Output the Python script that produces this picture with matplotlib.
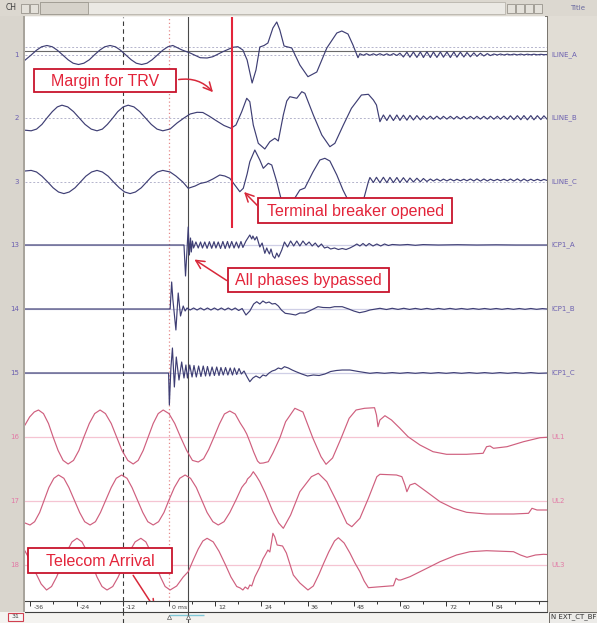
import matplotlib
matplotlib.use("Agg")
import matplotlib.pyplot as plt
from matplotlib.patches import Rectangle
from matplotlib.transforms import blended_transform_factory

# ---------------- data (time in ms, amplitude in screen units, up = +) ----------------
CH_NUM = ["1", "2", "3", "13", "14", "15", "16", "17", "18"]
CH_NAME = ["ILINE_A", "ILINE_B", "ILINE_C", "ICP1_A", "ICP1_B", "ICP1_C", "UL1", "UL2", "UL3"]

MAJOR = [-36, -24, -12, 0, 12, 24, 36, 48, 60, 72, 84]
MAJOR_LABELS = ["-36", "-24", "-12", "0 ms", "12", "24", "36", "48", "60", "72", "84"]
MINOR = [-30, -18, -6, 6, 18, 30, 42, 54, 66, 78, 90, 96]

CURSOR_DASH = -12.0
CURSOR_ZERO = 0.0
CURSOR_SOLID = 4.9
TRV_LINE = 16.4

# common sample instants of the post-event ripple
T_RIP = [49.6, 50.5, 51.3, 52.2, 53.1, 53.9, 54.8, 55.7, 56.6, 57.4, 58.3, 59.2, 60.0,
         60.9, 61.8, 62.6, 63.5, 64.4, 65.3, 66.1, 67.0, 67.9, 68.7, 69.6, 70.5, 71.3,
         72.2, 73.1, 74.0, 74.8, 75.7, 76.6, 77.4, 78.3, 79.2, 80.0, 80.9, 81.8, 82.7,
         83.5, 84.4, 85.3, 86.1, 87.0, 87.9, 88.7, 89.6, 90.5, 91.4, 92.2, 93.1, 94.0,
         94.8, 95.7, 96.6, 97.4, 98.3]

ILINE_A = [(-37.5, -5.5), (-35.8, 0), (-34.4, 4.8), (-33.1, 8.2), (-31.7, 9.5), (-30.3, 8.2),
           (-29.0, 4.8), (-27.6, 0), (-26.2, -4.8), (-24.9, -8.2), (-23.5, -9.5), (-22.1, -8.2),
           (-20.7, -4.8), (-19.4, 0), (-18.0, 4.8), (-16.7, 8.2), (-15.3, 9.5), (-13.9, 8.2),
           (-12.6, 4.8), (-11.2, 0), (-9.8, -4.8), (-8.5, -8.2), (-7.1, -9.5), (-5.7, -8.2),
           (-4.4, -4.8), (-3.0, 0), (-1.6, 4.8), (-0.3, 8.2), (1.0, 9.5), (3.4, 5), (5.5, 2),
           (8.1, -2.7), (9.9, -3), (11.4, -1.7), (14.0, 3.3), (16.6, 7.7), (17.9, 8.3),
           (19.2, 5), (20.3, -5), (21.6, -28), (22.6, -15), (23.6, 8), (24.7, 9.5), (25.7, 12),
           (27.0, 27), (28.0, 33), (28.8, 25), (29.9, 9), (30.9, 8), (31.9, 7), (34.0, -10),
           (36.1, -21.7), (38.4, -17), (41.0, 7), (43.6, 22), (44.9, 24), (46.5, 21),
           (47.8, 10), (49.1, -2.7)]
ILINE_A_TAIL = [1.3, -0.3, 1.3, -0.3, 1.2, -0.2, 1.3, -0.3, 1.2, -0.4, 1.4, -0.5, 1.8,
                -2.0, 2.8, -2.2, 3.0, -2.4, 3.0, -2.5, 3.2, -2.5, 3.0, -2.4, 3.0, -2.2, 3.0,
                -2.5, 3.0, -2.2, 2.8, -2.0, 2.5, -1.8, 2.2, -1.4, 1.8, -1.0, 1.4, -0.6,
                1.0, 0.0, 1.0, 0.0, 0.9, 0.1, 0.9, 0.1, 0.9, 0.1, 0.8, 0.2, 0.8, 0.2, 0.7, 0.3, 0.5]

ILINE_B = [(-37.4, -12.2), (-35.8, -12.8), (-34.4, -11.1), (-33.0, -6.4), (-31.7, 0),
           (-30.3, 6.4), (-29.0, 11.1), (-27.8, 12.8), (-26.3, 11.1), (-24.8, 6.4), (-23.3, 0),
           (-21.8, -6.4), (-20.2, -11.1), (-18.7, -12.8), (-17.3, -11.1), (-16.0, -6.4),
           (-14.6, 0), (-13.3, 6.4), (-11.9, 11.1), (-10.6, 12.8), (-9.1, 11.1), (-7.6, 6.4),
           (-6.1, 0), (-4.6, -6.4), (-3.1, -11.1), (-1.6, -12.8), (0.3, -11), (2.1, -5),
           (3.9, 0), (5.5, 4), (7.3, 5.7), (8.8, 5.5), (10.4, 2), (12.2, -2.5), (14.3, -7.5),
           (16.1, -10.3), (17.4, -7), (18.9, 6.3), (20.2, 19.7), (21.0, 16.3), (21.9, -7),
           (23.2, -25.3), (24.9, -31), (26.2, -23.7), (27.5, -20.3), (28.4, -23), (29.7, 3),
           (30.6, 17), (31.4, 21.3), (33.2, 19.7), (34.5, 26.3), (35.3, 24.7), (37.5, 3),
           (39.7, -17), (41.8, -28.7), (43.1, -25.3), (45.3, -7), (47.4, 9.7), (50.0, 23),
           (51.8, 23.7), (53.1, 18), (53.9, 13)]
ILINE_B_TAIL = [-3.7, 3.0, -2.5, 3.0, -2.5, 3.0, -2.4, 2.8, -2.2, 2.6, -2.0, 2.4, -1.8,
                2.0, -1.3, 1.8, -1.2, 1.8, -1.2, 1.7, -1.1, 1.7, -1.1, 1.6, -1.0, 1.6, -1.0,
                1.6, -1.0, 1.7, -1.1, 1.7, -1.1, 1.8, -1.2, 1.8, -1.2, 1.9, -1.3,
                2.2, -1.6, 2.3, -1.7, 2.4, -1.8, 2.4, -1.8, 2.3, -1.6, 2.2, -1.5]

ILINE_C = [(-37.4, 11.0), (-35.8, 11.6), (-34.4, 10.0), (-33.0, 5.8), (-31.5, 0), (-30.1, -5.8),
           (-28.7, -10.0), (-27.3, -11.6), (-25.9, -10.0), (-24.4, -5.8), (-23.0, 0),
           (-21.6, 5.8), (-20.1, 10.0), (-18.7, 11.6), (-17.3, 10.0), (-15.8, 5.8), (-14.4, 0),
           (-12.9, -5.8), (-11.5, -10.0), (-10.1, -11.6), (-8.7, -10.0), (-7.2, -5.8),
           (-5.8, 0), (-4.4, 5.8), (-3.0, 10.0), (-1.6, 11.6), (0.3, 10), (1.8, 6), (3.6, 0),
           (5.0, -6.3), (6.8, -4), (8.1, -1.5), (9.8, 0), (11.4, 3), (13.2, 7), (14.5, 6),
           (15.8, 3.7), (17.1, -3), (18.4, -9.7), (19.3, -6.3), (20.3, 8), (21.0, 20.3),
           (22.3, 32), (23.6, 22), (24.5, 13.7), (25.8, 18.7), (26.7, 17), (28.0, 0.3),
           (29.3, -19.7), (30.6, -33), (31.7, -35), (32.7, -16), (34.0, -8), (35.3, -6),
           (37.4, 10), (39.2, 22), (40.5, 23.7), (41.8, 21), (43.6, 7), (45.2, -8), (46.5, -18),
           (48.3, -21), (50.4, -19.7), (51.8, 0.3)]
ILINE_C_TAIL = [4.5, -0.5, 4.7, -0.7, 4.7, -0.7, 4.6, -0.6, 4.5, -0.5, 4.3, -0.3, 4.0, 0.0,
                3.8, 0.2, 3.5, 0.5,
                3.0, 1.0, 3.0, 1.0, 2.9, 1.1, 2.9, 1.1, 2.8, 1.2, 2.8, 1.2, 3.0, 1.0, 3.1, 0.9,
                3.0, 1.0, 2.8, 1.2, 2.7, 1.3, 2.8, 1.2, 3.0, 1.0, 3.1, 0.9, 3.0, 1.0, 2.8, 1.2,
                2.7, 1.3, 2.6, 1.4]

ICP1_A = [(-37.4, 0), (3.9, 0), (4.3, -31), (4.7, -4), (5.0, 18), (5.3, -10), (5.6, 7),
          (5.8, -7), (6.1, 4), (6.4, -3), (7.0, 3), (7.6, -3), (8.2, 3), (8.7, -3), (9.3, 3),
          (9.9, -3.3), (10.5, 3.3), (11.1, -3.3), (11.7, 3.3), (12.2, -3), (12.8, 3),
          (13.4, -3.5), (14.0, 3.5), (14.6, -3.5), (15.2, 3.5), (15.7, -3), (16.3, 3.5),
          (16.9, -3), (17.5, 3), (18.1, -3), (18.7, 3.5), (19.2, -2.5), (20.0, 4), (21.0, 10),
          (21.5, 6), (21.8, 9), (22.3, 5), (22.8, 8.3), (23.6, -2), (24.2, 2), (24.9, -8.3),
          (25.4, -3), (25.7, -6), (26.1, -9), (26.5, -4), (27.0, -11), (27.5, -13.3),
          (28.0, -8), (28.5, -12), (29.3, -5), (30.0, 3), (30.8, -2), (31.6, 4), (32.4, -1),
          (33.2, 4), (34.0, -1), (34.8, 4), (35.6, 0), (36.4, 3), (37.2, -1), (38.0, 2),
          (38.8, -2), (39.6, 1), (40.4, -3), (41.2, -2), (42.0, -4), (43.0, -3), (44.0, -4.5),
          (45.0, -3.5), (46.0, -4.5), (47.0, -3), (48.0, -1), (48.8, 1), (49.6, -1),
          (50.4, 1.5), (51.2, -1), (52.0, 1.5), (53.0, -1), (54.0, 1), (55.0, -1), (56.0, 1),
          (57.0, -0.5), (58.0, 0.5), (60.0, 0), (62.0, 0.5), (64.0, -0.3), (66.0, 0.4),
          (70.0, 0), (75.0, 0.3), (80.0, 0), (85.0, 0.2), (90.0, 0), (98.2, 0)]

ICP1_B = [(-37.4, 0), (0.3, 0), (0.7, 27), (1.0, 10), (1.8, -21), (2.4, 16), (3.0, -7),
          (3.7, 3), (4.2, -2), (4.7, 1), (5.5, -1), (6.4, 1), (7.3, -1), (8.2, 1), (9.1, -1),
          (10.0, 1), (10.9, -1), (11.8, 1), (12.7, -1), (13.6, 1), (14.5, -1), (15.4, 1),
          (16.3, -1), (17.2, 1), (18.1, -1.5), (19.0, 0.5), (20.0, -6), (21.0, -2), (22.0, 5),
          (22.8, 7.3), (23.6, 5), (24.4, 8), (25.2, 6), (26.0, 7), (26.8, 5), (27.6, 5.5),
          (28.4, 3), (29.2, -1), (30.2, -4.3), (31.5, -5), (32.9, -6), (34.0, -4), (35.3, -4),
          (36.1, -2.7), (38.7, 2.3), (40.0, 1.5), (41.8, 1.3), (43.0, 2.3), (45.0, 2.3),
          (46.7, 0), (48.0, -2), (49.5, -3.7), (51.0, -2.5), (52.2, -1), (54.8, 0.7),
          (56.5, -0.5), (58.0, 0.7), (59.5, -0.4), (61.0, 0.7), (62.5, -0.4), (64.0, 0.6),
          (65.5, -0.4), (67.0, 0.6), (68.5, -0.4), (70.0, 0.6), (71.5, -0.3), (73.0, 0.6),
          (74.5, -0.3), (76.0, 0.5), (77.5, -0.3), (79.0, 0.5), (80.5, -0.3), (82.0, 0.5),
          (83.5, -0.3), (85.0, 0.5), (86.5, -0.3), (88.0, 0.5), (89.5, -0.3), (91.0, 0.5),
          (92.5, -0.3), (94.0, 0.5), (95.5, -0.3), (97.0, 0.4), (98.2, 0)]

ICP1_C = [(-37.4, 0), (-0.1, 0), (0.1, -32), (0.5, 5), (0.9, 25), (1.4, -14), (1.9, 16),
          (2.6, -7), (3.3, 11), (3.9, -5), (4.4, 8), (4.8, -5), (5.4, 8), (6.0, -4), (6.5, 7.5),
          (7.1, -4), (7.7, 7), (8.3, -3.5), (8.9, 7), (9.5, -3), (10.0, 6.5), (10.6, -3),
          (11.2, 6), (11.8, -2.5), (12.4, 6), (13.0, -2.5), (13.5, 5.5), (14.1, -2), (14.7, 5.5),
          (15.3, -2), (15.9, 5), (16.5, -2), (17.0, 5), (17.6, -1.5), (18.2, 4.5), (18.8, -1),
          (19.5, 2), (20.3, -4), (21.0, -8.7), (21.8, -5), (22.6, -3), (23.6, -5), (24.4, -2),
          (25.2, -3), (26.0, 0), (26.8, 2), (27.6, 3), (28.4, 5), (29.2, 4), (30.0, 6.3),
          (31.0, 5), (32.0, 3), (33.0, 1.3), (34.5, -1), (36.0, -3), (37.5, -2), (39.0, -2.5),
          (40.5, -1), (42.0, 1.5), (43.5, 2.5), (45.0, 3), (47.0, 3), (49.5, 1.3), (52.2, -0.3),
          (54.0, 0.4), (56.0, -0.3), (58.0, 0.4), (60.0, -0.3), (62.0, 0.4), (64.0, -0.3),
          (66.0, 0.4), (68.0, -0.3), (70.0, 0.4), (72.0, -0.3), (74.0, 0.4), (76.0, -0.3),
          (78.0, 0.4), (80.0, -0.3), (82.0, 0.4), (84.0, -0.3), (86.0, 0.4), (88.0, -0.3),
          (90.0, 0.4), (92.0, -0.3), (94.0, 0.4), (96.0, -0.3), (98.2, 0)]

UL1 = [(-37.4, 12), (-36.2, 20), (-35.0, 25), (-33.9, 27), (-32.6, 23.4), (-31.3, 13.5),
       (-30.1, 0), (-28.8, -13.5), (-27.5, -23.4), (-26.2, -27), (-24.8, -23.4), (-23.4, -13.5),
       (-22.1, 0), (-20.7, 13.5), (-19.3, 23.4), (-17.9, 27), (-16.5, 23.4), (-15.0, 13.5),
       (-13.6, 0), (-12.2, -13.5), (-10.7, -23.4), (-9.3, -27), (-8.0, -23.4), (-6.7, -13.5),
       (-5.4, 0), (-4.1, 13.5), (-2.8, 23.4), (-1.5, 27), (0.0, 23.4), (1.5, 13.5), (3.0, 0),
       (4.6, -13.5), (6.1, -23.4), (7.6, -25), (9.0, -21.7), (10.3, -12.5), (11.7, 0),
       (13.1, 13), (14.4, 23), (15.8, 26), (17.2, 23), (18.5, 14), (19.5, 8), (20.2, 3),
       (21.0, -4.7), (22.0, -15), (23.0, -24), (23.6, -26.3), (24.5, -26), (25.8, -24.7),
       (27.0, -16), (28.8, -1), (30.3, 15.3), (31.2, 20.3), (32.7, 28.7), (34.8, 25),
       (37.4, -1.3), (39.5, -19.7), (40.8, -27.3), (42.5, -21), (44.7, -1.3), (46.8, 18.7),
       (48.6, 27), (50.8, 28.7), (53.4, 29.3), (53.9, 22), (54.3, 10.3), (54.8, 17),
       (56.1, 21.3), (57.8, 17), (60.0, 8.7), (62.1, 0.3), (65.2, -8), (68.6, -14.7),
       (72.1, -17.3), (77.3, -17.3), (81.6, -16.3), (82.5, -9.7), (83.4, -9), (84.3, -11.3),
       (87.8, -9.7), (92.1, -4.7), (96.4, -0.7), (98.2, -0.3)]

UL2 = [(-37.4, -22), (-36.1, -24), (-34.9, -20.7), (-33.6, -11.5), (-32.4, 1), (-31.2, 13.5),
       (-29.9, 22.7), (-28.7, 26), (-27.3, 22.7), (-26.0, 13.5), (-24.6, 1), (-23.2, -11.5),
       (-21.9, -20.7), (-20.5, -24), (-19.1, -20.7), (-17.8, -11.5), (-16.4, 1), (-15.0, 13.5),
       (-13.7, 22.7), (-12.3, 26), (-10.9, 22.7), (-9.6, 13.5), (-8.2, 1), (-6.8, -11.5),
       (-5.5, -20.7), (-4.1, -24), (-2.7, -20.7), (-1.3, -11.5), (0.0, 1), (1.4, 13.5),
       (2.8, 22.7), (4.2, 26), (5.6, 22.7), (7.1, 13.5), (8.5, 1), (9.9, -11.5), (11.4, -20.7),
       (12.8, -24), (14.3, -20.7), (15.8, -11.5), (17.4, 1), (18.9, 13.5), (19.6, 17),
       (20.0, 18.5), (20.4, 22), (21.2, 25), (21.9, 29.3), (22.7, 25), (23.6, 19.3), (25.0, 8),
       (27.0, -10.7), (28.5, -22), (29.7, -27.3), (31.6, -14), (34.0, 9.3), (37.0, 24.3),
       (38.8, 27.7), (41.0, 19.3), (43.6, -0.7), (46.2, -22.3), (47.5, -25.7), (49.6, -17.3),
       (51.8, 2.7), (54.0, 24.3), (54.8, 26.7), (59.1, 26), (60.5, 24.3), (61.3, 16),
       (61.8, 9.3), (62.6, 16), (63.9, 17.7), (66.9, 9.3), (70.4, -0.7), (73.9, -7.3),
       (77.3, -11.3), (82.5, -13), (89.5, -13), (93.4, -12.3), (94.3, -7.3), (95.6, -9),
       (98.2, -9)]

UL3 = [(-37.4, 14), (-36.0, 4), (-34.6, -8), (-33.2, -19), (-31.8, -25), (-30.5, -21.5),
       (-29.2, -12), (-27.8, 0.8), (-26.5, 13.7), (-25.2, 23.1), (-23.9, 26.7), (-22.6, 23.1),
       (-21.3, 13.7), (-20.0, 0.8), (-18.7, -12), (-17.4, -21.5), (-16.1, -25), (-14.6, -21.5),
       (-13.2, -12), (-11.7, 0.8), (-10.2, 13.7), (-8.8, 23.1), (-7.3, 26.7), (-6.0, 23.1),
       (-4.8, 13.7), (-3.5, 0.8), (-2.2, -12), (-1.0, -21.5), (0.3, -25), (2.0, -21),
       (3.7, -12), (5.0, -6.7), (6.3, 5), (7.6, 16), (8.8, 24), (9.9, 26.7), (11.5, 23.1),
       (13.0, 13.7), (14.6, 0.8), (16.1, -12), (17.6, -21.5), (18.5, -23), (19.2, -25),
       (19.8, -22), (20.5, -24), (21.0, -20), (21.5, -21), (22.3, -12), (23.6, -2), (24.4, 6),
       (25.0, 10), (25.7, 15), (26.2, 13), (26.6, 22), (27.0, 31.7), (27.5, 28), (28.1, 20),
       (29.5, 19), (30.5, 12), (32.3, -10), (34.0, -18), (36.1, -25), (37.5, -21),
       (39.0, -9), (40.1, 1), (41.5, 13), (43.0, 24), (44.0, 27.3), (45.5, 22), (47.0, 12),
       (48.3, 2), (49.6, -6.7), (50.7, -16), (51.8, -22.7), (54.0, -22), (58.3, -20.7),
       (59.0, -13.3), (59.6, -15), (60.2, -15), (62.6, -11.7), (66.1, -5), (70.4, 3.3),
       (74.7, 10), (78.2, 13.3), (82.5, 14.3), (89.5, 13.3), (91.3, 10), (93.0, 7.7),
       (95.2, 10), (97.3, 10.7), (98.2, 10.5)]

TRACES = [(ILINE_A, ILINE_A_TAIL), (ILINE_B, ILINE_B_TAIL), (ILINE_C, ILINE_C_TAIL),
          (ICP1_A, []), (ICP1_B, []), (ICP1_C, []), (UL1, []), (UL2, []), (UL3, [])]

# ---------------- layout ----------------
W, H = 597, 623
BASE = [55, 118, 182, 245, 309, 373, 437, 501, 565]   # channel zero lines (screen units)
BLUE = "#3e3e74"
PINK = "#cf5f7e"
RED = "#e3243a"
BOXRED = "#c8142c"


def fr(x0, y0, x1, y1):
    return (x0 / W, 1 - y1 / H, (x1 - x0) / W, (y1 - y0) / H)


def frect(x0, y0, x1, y1, **kw):
    l, b, w, h = fr(x0, y0, x1, y1)
    fig.add_artist(Rectangle((l, b), w, h, transform=fig.transFigure, zorder=-5, **kw))


fig = plt.figure(figsize=(W / 100, H / 100), dpi=100)
fig.patch.set_facecolor("#f4f3f0")

# window chrome
frect(0, 0, 597, 16, facecolor="#dcd8d0", edgecolor="none")
frect(0, 16, 25, 612, facecolor="#d9d5cd", edgecolor="none")
frect(547, 16, 597, 612, facecolor="#e1ddd5", edgecolor="none")
frect(40, 2, 505, 14, facecolor="#ebe9e4", edgecolor="#b8b4ac", lw=0.6)
frect(40, 2, 88, 14, facecolor="#d6d2ca", edgecolor="#9c988f", lw=0.6)
for bx in [21, 30, 507, 516, 525, 534]:
    frect(bx, 4, bx + 8, 13, facecolor="#e4e1da", edgecolor="#8a867e", lw=0.5)
frect(545, 16, 548, 612, facecolor="#7a766f", edgecolor="none")
frect(23, 16, 25, 612, facecolor="#a8a49c", edgecolor="none")
frect(549, 612, 597, 623, facecolor="#ecebe8", edgecolor="#5a5650", lw=0.6)
frect(8, 613, 23, 621, facecolor="#f6f6f6", edgecolor="#d04050", lw=0.8)
fig.text(6 / W, 1 - 8 / H, "CH", fontsize=5.5, color="#404040", va="center")
fig.text(570 / W, 1 - 8 / H, "Title", fontsize=5, color="#6a6aa0", va="center")
fig.text(551 / W, 1 - 617 / H, "N EXT_CT_BF", fontsize=5, color="#303030", va="center")
fig.text(15.5 / W, 1 - 617 / H, "31", fontsize=4.5, color="#404040", va="center", ha="center")

# main trace panel
ax = fig.add_axes(fr(25, 17, 547, 601))
ax.set_facecolor("white")
ax.set_xlim(-37.4, 98.2)
ax.set_ylim(601, 17)
ax.set_xticks([])
ax.set_yticks([])
for s in ax.spines.values():
    s.set_visible(False)

for i, b in enumerate(BASE):
    if i < 3:
        ax.axhline(b, color="#b4b4cc", lw=0.7, ls=(0, (2, 2)))
    elif i < 6:
        ax.axhline(b, color="#cfcfe6", lw=0.9)
    else:
        ax.axhline(b, color="#f5c4d2", lw=0.9)
ax.axhline(47, color="#b4b4cc", lw=0.7, ls=(0, (2, 2)))
ax.axhline(51, color="#6a6a6a", lw=0.8)

ax.axvline(CURSOR_DASH, color="#3a3a3a", lw=0.8, ls=(0, (4, 3)))
ax.axvline(CURSOR_ZERO, color="#e58a8a", lw=0.9, ls=(0, (1, 2)))
ax.axvline(CURSOR_SOLID, color="#4a4a4a", lw=0.8)

for i, (pairs, tail) in enumerate(TRACES):
    t = [p[0] for p in pairs] + T_RIP[len(T_RIP) - len(tail):]
    v = [p[1] for p in pairs] + tail
    ax.plot(t, [BASE[i] - y for y in v], color=BLUE if i < 6 else PINK, lw=0.85)

ax.vlines(TRV_LINE, 17, 228, color=RED, lw=1.5, zorder=5)

# channel numbers / names
lt = blended_transform_factory(ax.transAxes, ax.transData)
for i, b in enumerate(BASE):
    c = "#6b5fb0" if i < 6 else "#e27aa6"
    ax.text(-0.012, b, CH_NUM[i], transform=lt, ha="right", va="center", fontsize=5,
            color=c, clip_on=False)
    ax.text(1.008, b, CH_NAME[i], transform=lt, ha="left", va="center", fontsize=5,
            color=c, clip_on=False)

# annotation boxes
BOXES = [(-35.1, 69.3, 1.8, 91.7, "Margin for TRV"),
         (23.2, 198, 73.6, 223, "Terminal breaker opened"),
         (15.4, 268, 57.2, 292, "All phases bypassed"),
         (-36.5, 548, 0.7, 573, "Telecom Arrival")]
for x0, y0, x1, y1, label in BOXES:
    ax.add_patch(Rectangle((x0, y0), x1 - x0, y1 - y0, facecolor="white", edgecolor=BOXRED,
                           lw=1.3, zorder=6))
    ax.text((x0 + x1) / 2, (y0 + y1) / 2 + 0.5, label, ha="center", va="center", fontsize=11.5,
            family="Liberation Sans", color=RED, zorder=7)

arrow = dict(arrowstyle="->,head_length=0.6,head_width=0.3", color="#d8283a", lw=1.1)
ax.annotate("", xy=(11.9, 94.3), xytext=(1.8, 80),
            arrowprops=dict(arrow, connectionstyle="arc3,rad=-0.3"), zorder=8)
ax.annotate("", xy=(19.0, 190), xytext=(23.6, 208), arrowprops=arrow, zorder=8)
ax.annotate("", xy=(6.0, 258), xytext=(15.6, 282), arrowprops=arrow, zorder=8)
ax.annotate("", xy=(-3.2, 611.5), xytext=(-9.7, 573), arrowprops=arrow, zorder=8,
            annotation_clip=False)

# time scale strip
tax = fig.add_axes(fr(25, 601, 547, 612))
tax.set_facecolor("#fbfbfb")
tax.set_xlim(ax.get_xlim())
tax.set_ylim(0, 1)
tax.set_yticks([])
tax.set_xticks(MAJOR)
tax.set_xticks(MINOR, minor=True)
tax.tick_params(axis="x", which="both", direction="in", top=True, bottom=False,
                labelbottom=False, color="#303030", width=0.7)
tax.tick_params(axis="x", which="major", length=3.5)
tax.tick_params(axis="x", which="minor", length=2)
for s in ["left", "right"]:
    tax.spines[s].set_visible(False)
for s in ["top", "bottom"]:
    tax.spines[s].set_color("#404040")
    tax.spines[s].set_linewidth(0.8)
for t, lab in zip(MAJOR, MAJOR_LABELS):
    tax.text(t + 0.8, 0.4, lab, fontsize=4.5, color="#404040", va="center", ha="left")
tax.axvline(CURSOR_DASH, color="#3a3a3a", lw=0.8, ls=(0, (4, 3)))
tax.axvline(CURSOR_SOLID, color="#4a4a4a", lw=0.8)

# cursor footer
bax = fig.add_axes(fr(25, 612, 547, 623))
bax.set_facecolor("#f6f6f6")
bax.set_xlim(ax.get_xlim())
bax.set_ylim(0, 1)
bax.axis("off")
bax.hlines(0.75, CURSOR_ZERO, 9.0, color="#7fc8d8", lw=1.0)
bax.axvline(CURSOR_DASH, color="#3a3a3a", lw=0.8, ls=(0, (4, 3)))
bax.axvline(CURSOR_SOLID, color="#4a4a4a", lw=0.8)
bax.plot([CURSOR_ZERO, CURSOR_SOLID], [0.55, 0.55], ls="none", marker="^", ms=3,
         mfc="white", mec="#606060", mew=0.5)

fig.savefig("out.png", dpi=100)
